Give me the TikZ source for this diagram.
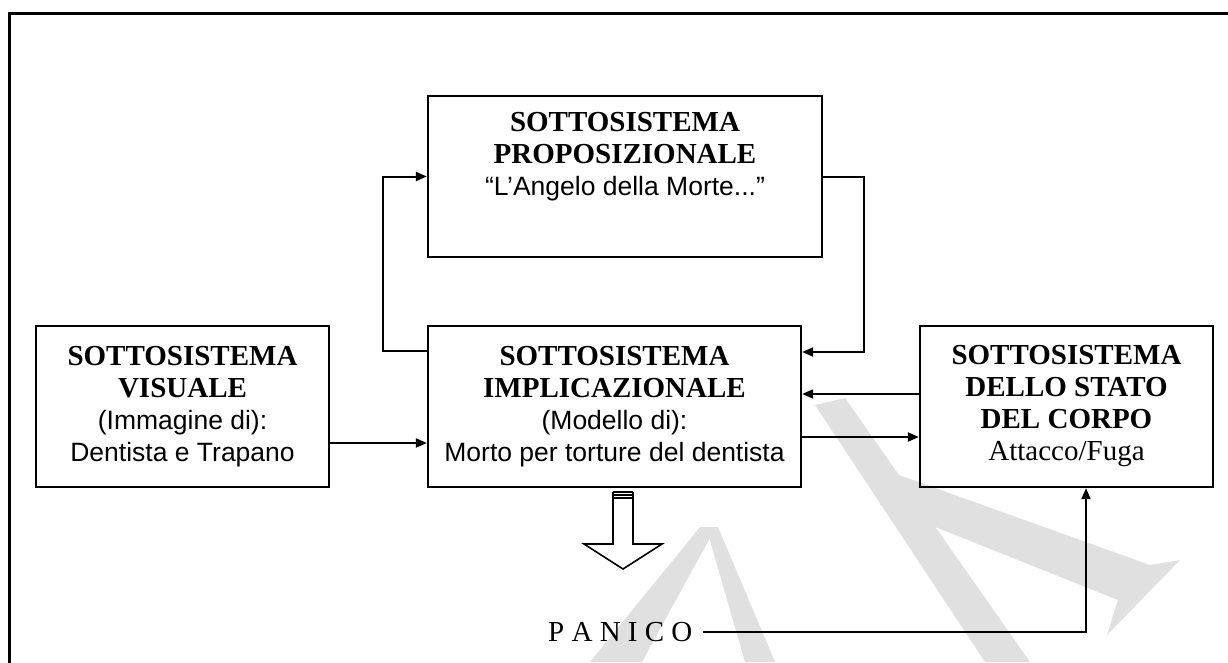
\documentclass[tikz,border=0pt]{standalone}
\usepackage{fontspec}
\setmainfont{Liberation Serif}
\newfontfamily\arial{Liberation Sans}
\newcommand{\sans}[1]{{\arial\fontsize{26.5}{32}\selectfont #1}}
\usetikzlibrary{arrows.meta}
\begin{document}
\begin{tikzpicture}[x=1pt,y=-1pt,
  box/.style={draw,line width=2.3pt,inner sep=0pt,align=center,
    font=\fontsize{29}{32}\selectfont},
  txt/.style={align=center,inner sep=0pt,font=\fontsize{29}{32}\selectfont},
  conn/.style={line width=2pt},
  arr/.style={conn,-{Triangle[length=11pt,width=9pt]}},
  wm/.style={fill=black!12,draw=none},
  frame/.style={line width=3pt}
]
\useasboundingbox (0,0) rectangle (1228,662);
% watermark
\fill[wm] (700,527) -- (716,527) -- (642,662) -- (590,662) -- cycle;
\fill[wm] (706,527) -- (718,527) -- (775,662) -- (745,662) -- cycle;
\fill[wm] (815,405) -- (845,398) -- (1030,662) -- (985,662) -- cycle;
\fill[wm] (885,470) -- (1150,565) -- (1180,560) -- (1107,635) -- (1118,600) -- (880,505) -- cycle;
% frame
\coordinate (fbl) at (9,700);
\coordinate (ftl) at (9,13);
\coordinate (ftr) at (1260,13);
\draw[frame] (fbl) -- (ftl) -- (ftr);
% boxes
\node[box,minimum width=394pt,minimum height=161pt] (prop) at (625,176.5) {};
\node[txt,anchor=north] (proptxt) at (625,112) {\textbf{SOTTOSISTEMA}\\\textbf{PROPOSIZIONALE}\\\sans{“L’Angelo della Morte...”}};
\node[box,minimum width=293pt,minimum height=161pt] (vis) at (182.5,406.5)
  {\textbf{SOTTOSISTEMA}\\\textbf{VISUALE}\\\sans{(Immagine di):}\\\sans{Dentista e Trapano}};
\node[box,minimum width=373pt,minimum height=161pt] (impl) at (614.5,406.5)
  {\textbf{SOTTOSISTEMA}\\\textbf{IMPLICAZIONALE}\\\sans{(Modello di):}\\\sans{Morto per torture del dentista}};
\node[box,minimum width=293pt,minimum height=161pt] (corpo) at (1066.5,406.5)
  {\textbf{SOTTOSISTEMA}\\\textbf{DELLO STATO}\\\textbf{DEL CORPO}\\Attacco/Fuga};
\node[txt,anchor=base west] (panico) at (548,641) {P A N I C O};
% connectors
\draw[arr] ([yshift=-36.5pt]vis.east) -- ([yshift=-36.5pt]impl.west);
\draw[arr] ([yshift=-30.5pt]impl.east) -- ([yshift=-30.5pt]corpo.west);
\draw[arr] ([yshift=12.5pt]corpo.west) -- ([yshift=12.5pt]impl.east);
\draw[arr] (prop.east) -- ++(41,0) |- ([yshift=54.5pt]impl.east);
\draw[arr] ([yshift=55.5pt]impl.west) -- ++(-44,0) |- (prop.west);
\draw[arr] ([xshift=10pt]panico.east) -| ([xshift=19.5pt]corpo.south);
% hollow striped arrow
\coordinate (ha) at (623,492);
\draw[line width=1.6pt] ([xshift=-10pt]ha) -- ([xshift=10pt]ha);
\draw[line width=1.6pt] ([xshift=-10pt,yshift=-3pt]ha) -- ([xshift=10pt,yshift=-3pt]ha);
\draw[line width=1.6pt] ([xshift=-10pt,yshift=-6pt]ha) -- ([xshift=10pt,yshift=-6pt]ha);
\draw[line width=1.6pt,line join=miter]
  ([xshift=-10pt]ha) -- ([xshift=-10pt,yshift=-52pt]ha) -- ([xshift=-39pt,yshift=-52pt]ha)
  -- ([yshift=-77pt]ha) -- ([xshift=39pt,yshift=-52pt]ha) -- ([xshift=10pt,yshift=-52pt]ha)
  -- ([xshift=10pt]ha);
\end{tikzpicture}
\end{document}
